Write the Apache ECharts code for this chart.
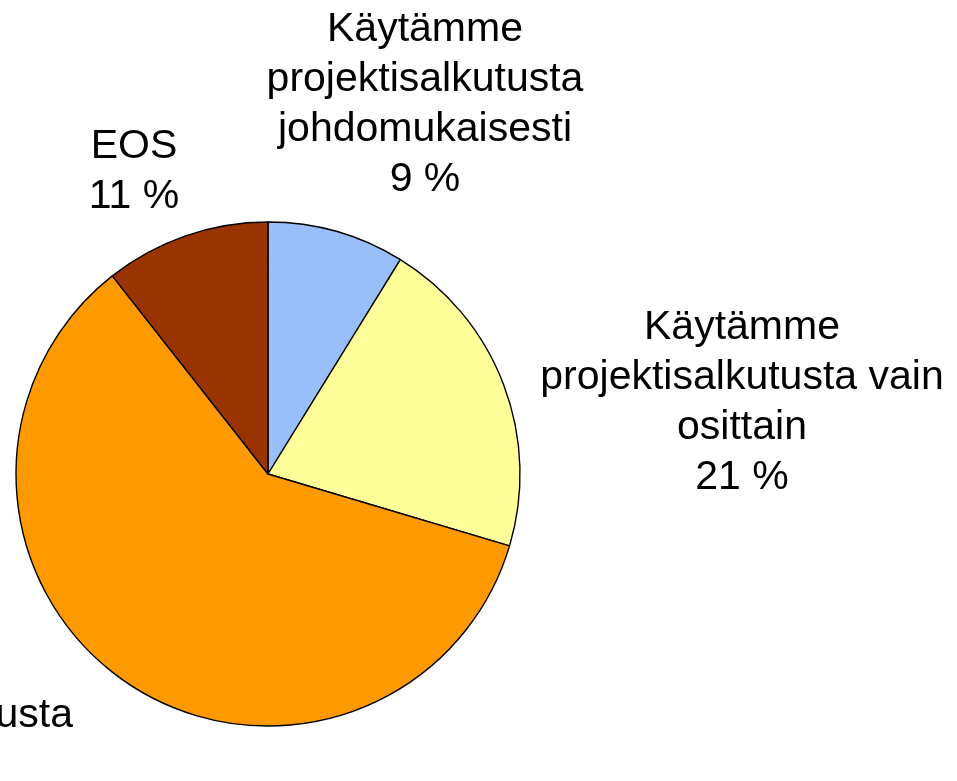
<!DOCTYPE html>
<html><head><meta charset="utf-8">
<script src="https://cdn.jsdelivr.net/npm/echarts@6/dist/echarts.min.js"></script>
<style>html,body{margin:0;padding:0;background:#fff}#c{width:957px;height:781px}</style>
</head><body><div id="c"></div>
<script>
const categories = ["Käytämme\nprojektisalkutusta\njohdomukaisesti", "Käytämme\nprojektisalkutusta vain\nosittain", "Emme käytä projektisalkutusta", "EOS"];
const values = [8.8, 20.8, 59.8, 10.6];
const colors = ["#99BFFA", "#FFFF99", "#FF9900", "#993300"];
// label anchor points (layout only)
const labelPos = [[425, 105], [742, 403], [-205, 741], [134, 172]];

const chart = echarts.init(document.getElementById('c'), null, {renderer: 'canvas'});
chart.setOption({
  animation: false,
  series: [{
    type: 'pie',
    center: [268, 474],
    radius: [0, 252],
    startAngle: 90,
    clockwise: true,
    avoidLabelOverlap: false,
    itemStyle: {borderColor: '#000', borderWidth: 1.4},
    label: {
      show: true,
      position: 'outside',
      fontFamily: 'Liberation Sans, Arial, sans-serif',
      fontSize: 41,
      lineHeight: 50,
      color: '#000',
      align: 'center',
      formatter: p => p.name + '\n' + Math.round(p.percent) + ' %'
    },
    labelLine: {show: false},
    labelLayout: p => ({x: labelPos[p.dataIndex][0], y: labelPos[p.dataIndex][1], align: 'center', verticalAlign: 'middle'}),
    emphasis: {disabled: true},
    data: categories.map((c, i) => ({name: c, value: values[i], itemStyle: {color: colors[i]}}))
  }]
});
</script></body></html>
